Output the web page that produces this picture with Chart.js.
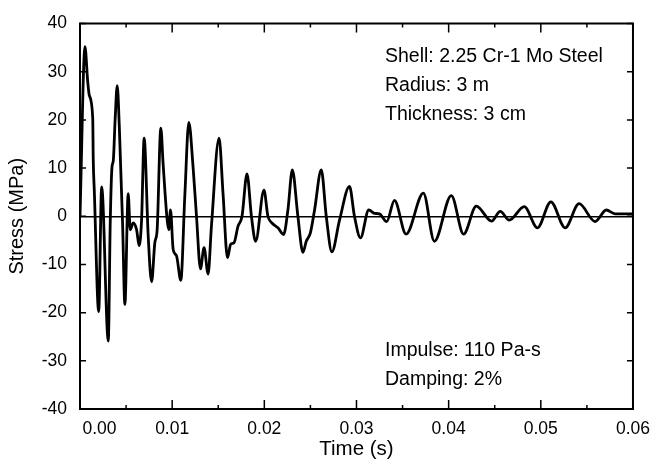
<!DOCTYPE html>
<html>
<head>
<meta charset="utf-8">
<script src="https://cdn.jsdelivr.net/npm/chart.js@4.4.1/dist/chart.umd.min.js"></script>
<style>
  html, body { margin: 0; padding: 0; background: #fff; }
  #wrap { width: 660px; height: 465px; }
</style>
</head>
<body>
<div id="wrap"><canvas id="stressChart" width="660" height="465"></canvas></div>
<script>
// Stress history (time in s, stress in MPa)
var timeS = [
  0.0000, 0.00054, 0.00083, 0.00101, 0.00138, 0.00144, 0.00155, 0.00203, 0.00235, 0.00307,
  0.00328, 0.00347, 0.00361, 0.00382, 0.00404, 0.00426, 0.00462, 0.00487, 0.00523, 0.00545,
  0.00577, 0.00614, 0.00642, 0.00668, 0.00696, 0.00740, 0.00777, 0.00812, 0.00837, 0.00877,
  0.00902, 0.00946, 0.00964, 0.00982, 0.01011, 0.01047, 0.01094, 0.01137, 0.01181, 0.01227,
  0.01264, 0.01307, 0.01346, 0.01390, 0.01426, 0.01509, 0.01552, 0.01600, 0.01635, 0.01671,
  0.01714, 0.01758, 0.01812, 0.01860, 0.01906, 0.01996, 0.02039, 0.02083, 0.02148, 0.02209,
  0.02256, 0.02304, 0.02364, 0.02419, 0.02455, 0.02499, 0.02545, 0.02618, 0.02672, 0.02733,
  0.02816, 0.02924, 0.02978, 0.03043, 0.03133, 0.03195, 0.03249, 0.03328, 0.03412, 0.03538,
  0.03726, 0.03845, 0.04029, 0.04162, 0.04300, 0.04466, 0.04560, 0.04657, 0.04820, 0.04964,
  0.05109, 0.05264, 0.05415, 0.05589, 0.05711, 0.05805, 0.06000
];
var stressMPa = [
  0, 35.2, 28.1, 25.1, 20.4, 11.5, 5.4, -19.8, 6.1, -25.9,
  -1.4, 10.2, 11.5, 20.4, 27.1, 18.9, -1.4, -18.3, 4.7, -2.8,
  -1.4, -2.8, -6.1, -0.8, 16.2, -4.1, -13.6, -5.5, -2.8, 18.3,
  10.8, -0.8, -2.8, 1.3, -6.9, -8.2, -13.3, 4.1, 19.5, 10.2,
  0, -10.9, -6.5, -12.0, -2.1, 16.2, 4.7, -8.6, -5.8, -5.5,
  -2.1, 0, 8.8, 0, -5.2, 5.4, 0, -1.4, -2.4, -3.8,
  1.3, 9.6, 0, -7.5, -5.2, -3.5, 1.3, 9.6, 0, -7.4,
  -0.8, 6.2, 0, -4.5, 1.3, 0.6, 0.5, -1.1, 3.3, -3.7,
  4.8, -5.2, 4.3, -3.7, 2.1, -1.0, 1.0, -0.8, 2.0, -2.4,
  3.0, -2.4, 2.6, -1.1, 1.3, 0.5, 0.5
];

var yTicks = [-40, -30, -20, -10, 0, 10, 20, 30, 40];
var xMinorTicks = [0, 0.005, 0.01, 0.015, 0.02, 0.025, 0.03, 0.035, 0.04, 0.045, 0.05, 0.055, 0.06];

var notesTop = ["Shell: 2.25 Cr-1 Mo Steel", "Radius: 3 m", "Thickness: 3 cm"];
var notesBottom = ["Impulse: 110 Pa-s", "Damping: 2%"];

var fontFamily = "'Liberation Sans', Arial, Helvetica, sans-serif";

var points = timeS.map((t, i) => ({ x: t, y: stressMPa[i] }));

// frame, inward ticks and the text notes
var frameTicks = {
    id: 'frameTicks',
    afterDraw(chart) {
        var ctx = chart.ctx;
        var a = chart.chartArea;
        var xs = chart.scales.x, ys = chart.scales.y;
        ctx.save();
        ctx.strokeStyle = '#000';
        ctx.lineWidth = 2;
        ctx.strokeRect(a.left, a.top, a.right - a.left, a.bottom - a.top);

        ctx.lineWidth = 1.5;
        ctx.beginPath();
        xMinorTicks.forEach((v, i) => {
            var px = xs.getPixelForValue(v);
            var len = i % 2 === 0 ? 9 : 4;
            ctx.moveTo(px, a.bottom); ctx.lineTo(px, a.bottom - len);
            ctx.moveTo(px, a.top); ctx.lineTo(px, a.top + len);
        });
        yTicks.forEach(v => {
            var py = ys.getPixelForValue(v);
            ctx.moveTo(a.left, py); ctx.lineTo(a.left + 6, py);
            ctx.moveTo(a.right, py); ctx.lineTo(a.right - 6, py);
        });
        ctx.stroke();

        ctx.fillStyle = '#000';
        ctx.font = "19.5px " + fontFamily;
        ctx.textBaseline = 'middle';
        ctx.textAlign = 'left';
        notesTop.forEach((s, i) => ctx.fillText(s, 385, 57 + i * 29));
        notesBottom.forEach((s, i) => ctx.fillText(s, 385, 351 + i * 29));
        ctx.restore();
    }
};

var ctx = document.getElementById('stressChart').getContext('2d');

var StressChart = new Chart(ctx, {
    type: 'line',
    data: {
        datasets: [{
            data: points,
            borderColor: '#000',
            borderWidth: 2.8,
            pointRadius: 0,
            cubicInterpolationMode: 'monotone',
            fill: false
        }]
    },
    options: {
        responsive: false,
        animation: false,
        events: [],
        layout: { padding: { left: 0, right: 26, top: 17, bottom: 0 } },
        plugins: {
            legend: { display: false },
            tooltip: { enabled: false }
        },
        scales: {
            x: {
                type: 'linear',
                min: 0,
                max: 0.06,
                afterFit: s => { s.height = 56; },
                grid: { display: false, drawTicks: false },
                border: { display: false },
                ticks: {
                    stepSize: 0.01,
                    padding: 10,
                    maxRotation: 0,
                    color: '#000',
                    font: { family: fontFamily, size: 17.5 },
                    callback: v => {
                        var s = Number(v).toFixed(2);
                        return s === '0.00' ? '\u2007\u2007\u2007\u20070.00' : s;
                    }
                },
                title: {
                    display: true,
                    text: 'Time (s)',
                    color: '#000',
                    font: { family: fontFamily, size: 20.5 },
                    padding: { top: 0, bottom: 3 }
                }
            },
            y: {
                min: -40,
                max: 40,
                afterFit: s => { s.width = 80; },
                grid: {
                    drawTicks: false,
                    color: c => (c.tick && c.tick.value === 0) ? '#000' : 'rgba(0,0,0,0)',
                    lineWidth: 1.5
                },
                border: { display: false },
                ticks: {
                    stepSize: 10,
                    padding: 13,
                    color: '#000',
                    font: { family: fontFamily, size: 17.5 }
                },
                title: {
                    display: true,
                    text: 'Stress (MPa)',
                    color: '#000',
                    font: { family: fontFamily, size: 20 },
                    padding: { top: 5, bottom: 0 }
                }
            }
        }
    },
    plugins: [frameTicks]
});
</script>
</body>
</html>
